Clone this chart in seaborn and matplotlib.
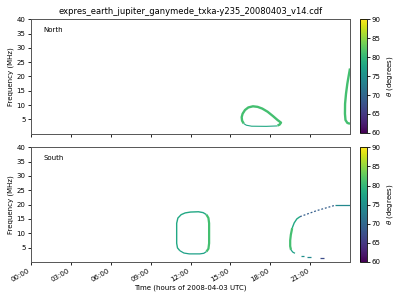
import numpy as np
import pandas as pd
import matplotlib
matplotlib.use("Agg")
import matplotlib.pyplot as plt
import seaborn as sns
from matplotlib.colors import Normalize
from matplotlib.cm import ScalarMappable

plt.rcParams['font.family'] = ['DejaVu Sans']

title = "expres_earth_jupiter_ganymede_txka-y235_20080403_v14.cdf"
xtick_hours = [0, 3, 6, 9, 12, 15, 18, 21]
xtick_labels = ["00:00", "03:00", "06:00", "09:00", "12:00", "15:00", "18:00", "21:00"]
ytick_values = [5, 10, 15, 20, 25, 30, 35, 40]
cbar_ticks = [60, 65, 70, 75, 80, 85, 90]
theta_range = (60, 90)

# ---- North hemisphere emission contours (time in hours, frequency in MHz, theta in degrees)
n_loop_upper_t = [16.0, 15.88, 15.85, 15.92, 16.1, 16.35, 16.7, 17.05, 17.4, 17.8, 18.2, 18.55, 18.81, 18.7, 18.55]
n_loop_upper_f = [3.6, 4.6, 5.8, 7.0, 8.3, 9.2, 9.6, 9.4, 8.8, 7.7, 6.2, 4.8, 3.9, 3.2, 2.9]
n_loop_upper_theta = 81
n_loop_lower_t = [18.55, 17.7, 16.6, 16.2, 16.0]
n_loop_lower_f = [2.75, 2.6, 2.65, 3.0, 3.6]
n_loop_lower_theta = 78
n_edge_t = [24.0, 23.9, 23.8, 23.7, 23.63, 23.62, 23.66, 23.8, 24.0]
n_edge_f = [22.8, 20.2, 17.5, 14.0, 10.5, 7.0, 4.8, 3.8, 3.5]
n_edge_theta = 81

# ---- South hemisphere emission contours
s_loop_left_t = [11.2, 11.02, 10.96, 10.96, 11.05, 11.3, 11.6, 12.0, 12.6, 12.95, 13.2]
s_loop_left_f = [3.9, 4.9, 6.5, 13.5, 15.3, 16.5, 17.1, 17.4, 17.5, 17.2, 16.5]
s_loop_left_theta = 78
s_loop_right_t = [13.2, 13.35, 13.4, 13.4, 13.35, 13.2]
s_loop_right_f = [16.5, 15.3, 13.5, 6.5, 4.6, 3.6]
s_loop_right_theta = 81
s_loop_bottom_t = [13.2, 13.0, 12.7, 11.9, 11.5, 11.2]
s_loop_bottom_f = [3.6, 3.0, 2.8, 2.8, 3.1, 3.9]
s_loop_bottom_theta = 77
s_arc_upper_t = [20.24, 20.0, 19.8, 19.65]
s_arc_upper_f = [15.8, 15.0, 13.6, 11.8]
s_arc_upper_theta = 78
s_arc_vertical_t = [19.65, 19.55, 19.5, 19.5, 19.56]
s_arc_vertical_f = [11.8, 9.5, 7.5, 5.5, 4.2]
s_arc_vertical_theta = 81
s_arc_lower_t = [19.56, 19.7, 19.86]
s_arc_lower_f = [4.2, 3.4, 3.0]
s_arc_lower_theta = 77
s_diag_t = [20.24, 21.5, 22.87]
s_diag_f = [15.8, 17.9, 19.75]
s_diag_theta = 69
s_flat_t = [22.87, 24.0]
s_flat_f = [19.75, 19.75]
s_flat_theta = 74
s_dash1_t = [20.3, 20.55]
s_dash1_f = [2.2, 2.2]
s_dash1_theta = 75
s_dash2_t = [20.8, 21.05]
s_dash2_f = [1.85, 1.85]
s_dash2_theta = 74
s_dash3_t = [21.75, 22.05]
s_dash3_f = [1.3, 1.3]
s_dash3_theta = 67

norm = Normalize(*theta_range)


def seg(t, f, theta):
    return pd.DataFrame({"time": t, "freq": f, "theta": [theta] * len(t)})


def draw(ax, t, f, theta, lw, ls="-"):
    df = seg(t, f, theta)
    sns.lineplot(data=df, x="time", y="freq", hue="theta", palette="viridis",
                 hue_norm=norm, estimator=None, sort=False, legend=False,
                 linewidth=lw, linestyle=ls, ax=ax, solid_capstyle="butt")


fig = plt.figure(figsize=(4, 3), dpi=100)
ax1 = fig.add_axes([0.0775, 0.554, 0.7975, 0.382])
ax2 = fig.add_axes([0.0775, 0.127, 0.7975, 0.382])
cax1 = fig.add_axes([0.9, 0.557, 0.017, 0.379])
cax2 = fig.add_axes([0.9, 0.127, 0.017, 0.382])

draw(ax1, n_loop_upper_t, n_loop_upper_f, n_loop_upper_theta, 1.7)
draw(ax1, n_loop_lower_t, n_loop_lower_f, n_loop_lower_theta, 0.8)
draw(ax1, n_edge_t, n_edge_f, n_edge_theta, 1.7)

draw(ax2, s_loop_left_t, s_loop_left_f, s_loop_left_theta, 1.0)
draw(ax2, s_loop_right_t, s_loop_right_f, s_loop_right_theta, 1.6)
draw(ax2, s_loop_bottom_t, s_loop_bottom_f, s_loop_bottom_theta, 0.9)
draw(ax2, s_arc_upper_t, s_arc_upper_f, s_arc_upper_theta, 1.0)
draw(ax2, s_arc_vertical_t, s_arc_vertical_f, s_arc_vertical_theta, 1.6)
draw(ax2, s_arc_lower_t, s_arc_lower_f, s_arc_lower_theta, 0.9)
draw(ax2, s_diag_t, s_diag_f, s_diag_theta, 0.9, ls=(0, (1.5, 1.5)))
draw(ax2, s_flat_t, s_flat_f, s_flat_theta, 0.9)
draw(ax2, s_dash1_t, s_dash1_f, s_dash1_theta, 0.9)
draw(ax2, s_dash2_t, s_dash2_f, s_dash2_theta, 0.9)
draw(ax2, s_dash3_t, s_dash3_f, s_dash3_theta, 0.9)

fs = 5
for ax, lab in [(ax1, "North"), (ax2, "South")]:
    ax.set_xlim(0, 24)
    ax.set_ylim(0, 40)
    ax.set_xticks(xtick_hours)
    ax.set_yticks(ytick_values)
    ax.set_ylabel("Frequency (MHz)", fontsize=fs, labelpad=2)
    ax.tick_params(labelsize=fs, length=2.5, width=0.6, pad=1.5)
    for s in ax.spines.values():
        s.set_linewidth(0.7)
        s.set_color("#555555")
    ax.text(0.04, 0.91, lab, transform=ax.transAxes, fontsize=fs, va="center")
    ax.set_xlabel("")

ax1.set_xticklabels([])
ax2.set_xticklabels(xtick_labels, rotation=30, ha="right")
ax2.set_xlabel("Time (hours of 2008-04-03 UTC)", fontsize=fs, labelpad=1)
ax1.set_title(title, fontsize=6, pad=4)

sm = ScalarMappable(norm=norm, cmap="viridis")
for cax in (cax1, cax2):
    cb = fig.colorbar(sm, cax=cax, ticks=cbar_ticks)
    cb.set_label(r"$\theta$ (degrees)", fontsize=fs, labelpad=3)
    cb.ax.tick_params(labelsize=fs, length=2, width=0.6, pad=1.5)
    cb.outline.set_linewidth(0.6)

fig.savefig("out.png", dpi=100)
